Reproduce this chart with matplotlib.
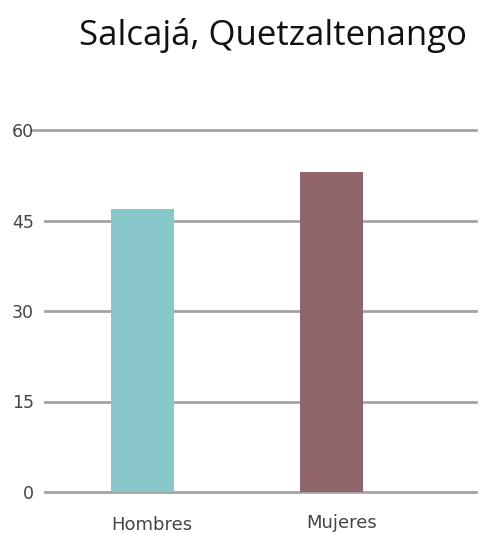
import matplotlib
matplotlib.use("Agg")
import matplotlib.pyplot as plt
import matplotlib.transforms as mtransforms

categories = ["Hombres", "Mujeres"]
values = [46.9, 53.1]
colors = ["#88C8CA", "#8F646B"]
yticks = [0, 15, 30, 45, 60]
title = "Salcajá, Quetzaltenango"

W, H = 489, 533
fig = plt.figure(figsize=(W / 100, H / 100), dpi=100)
fig.patch.set_facecolor("white")

left_px, right_px = 45, 476
top_px, bot_px = 130, 492
ax = fig.add_axes([left_px / W, 1 - bot_px / H, (right_px - left_px) / W, (bot_px - top_px) / H])

x = list(range(len(categories)))
ax.set_xlim(-0.516, 1.765)
ax.set_ylim(0, 60)

for yv in yticks:
    xmin = -0.028 if yv == 60 else 0
    ax.axhline(yv, xmin=xmin, xmax=1, color="#a3a3a3", lw=2.0, clip_on=False, zorder=1)

ax.bar(x, values, width=0.333, color=colors, zorder=2)

for s in ax.spines.values():
    s.set_visible(False)

ax.set_yticks(yticks)
ax.set_yticklabels([str(v) for v in yticks], fontsize=12.5, color="#444444", family="DejaVu Sans")
ax.tick_params(axis="y", length=0, pad=8)

ax.set_xticks(x)
ax.set_xticklabels(categories, fontsize=13, color="#444444", family="DejaVu Sans")
ax.tick_params(axis="x", length=0, pad=17)
offs = [(9, 0), (10, 2)]
for lbl, (dx, dy) in zip(ax.get_xticklabels(), offs):
    lbl.set_transform(lbl.get_transform() + mtransforms.ScaledTranslation(dx / 100, dy / 100, fig.dpi_scale_trans))

fig.text(273 / W, 1 - 45 / H, title, ha="center", va="baseline", fontsize=25, family="Open Sans", color="#111111")

fig.savefig("out.png", dpi=100, facecolor="white")
